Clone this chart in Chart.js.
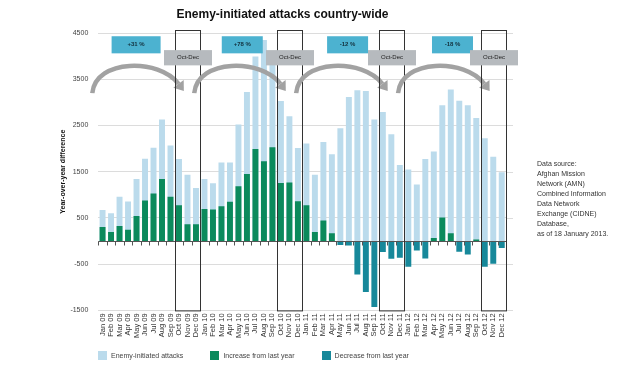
<!DOCTYPE html>
<html>
<head>
<meta charset="utf-8">
<script src="https://cdn.jsdelivr.net/npm/chart.js@4.4.1/dist/chart.umd.min.js"></script>
<style>
    html, body { margin: 0; padding: 0; background: #fff; }
    #wrap { position: relative; width: 633px; height: 385px; }
    #note {
        position: absolute; left: 537px; top: 159px;
        font: 7px/10px "Liberation Sans", Arial, sans-serif; color: #333;
    }
    #legend {
        position: absolute; left: 98px; top: 351px;
        display: flex; font: 7px "Liberation Sans", Arial, sans-serif; color: #444;
    }
    #legend .item { display: flex; align-items: center; margin-right: 27px; }
    #legend .box { width: 9px; height: 9px; margin-right: 4px; }
</style>
</head>
<body>
<div id="wrap">
    <canvas id="myChart"></canvas>
    <div id="legend"></div>
    <div id="note">Data source:<br>Afghan Mission<br>Network (AMN)<br>Combined Information<br>Data Network<br>Exchange (CIDNE)<br>Database,<br>as of 18 January 2013.</div>
</div>
<script>
// Datos
const monthNames = ["Jan", "Feb", "Mar", "Apr", "May", "Jun", "Jul", "Aug", "Sep", "Oct", "Nov", "Dec"];
const years = ["09", "10", "11", "12"];
const yTicks = [-1500, -500, 500, 1500, 2500, 3500, 4500];
const yearChange = ["+31 %", "+78 %", "-12 %", "-18 %"];

// Ataques iniciados por el enemigo (total mensual)
const attacks = [
    670, 600, 960, 855, 1340, 1780, 2020, 2630, 2065, 1775, 1435, 1150,
    1340, 1250, 1700, 1700, 2520, 3225, 3990, 4350, 4090, 3030, 2700, 2010,
    2110, 1435, 2140, 1880, 2440, 3115, 3260, 3245, 2630, 2790, 2310, 1645,
    1545, 1225, 1775, 1935, 2935, 3280, 3035, 2935, 2660, 2225, 1825, 1490
];
// Diferencia interanual
const change = [
    304, 196, 326, 246, 543, 877, 1030, 1340, 957, 775, 362, 362,
    695, 680, 753, 848, 1188, 1450, 1993, 1725, 2030, 1254, 1268, 862,
    775, 196, 442, 167, -87, -94, -725, -1100, -1428, -239, -384, -362,
    -558, -203, -377, 65, 507, 167, -232, -290, 36, -558, -493, -152
];

const labels = [];
years.forEach(yr => monthNames.forEach(m => labels.push(m + " " + yr)));
const increase = change.map(v => (v > 0 ? v : null));
const decrease = change.map(v => (v < 0 ? v : null));

const FONT = "'Liberation Sans', Arial, sans-serif";

// Anotaciones: línea de cero, flechas, recuadros Oct-Dec y etiquetas
const annotations = {
    id: "annotations",
    afterDatasetsDraw(chart) {
        const { ctx, chartArea: area, scales: { x, y } } = chart;
        const step = x.getPixelForValue(1) - x.getPixelForValue(0);
        const edge = i => x.getPixelForValue(i) - step / 2;
        const at = f => x.getPixelForValue(0) + f * step;
        ctx.save();

        // prolongación de la cuadrícula a la derecha
        ctx.strokeStyle = "#dcdcdc";
        ctx.lineWidth = 1;
        ctx.beginPath();
        yTicks.forEach(v => {
            const py = Math.round(y.getPixelForValue(v)) + 0.5;
            ctx.moveTo(area.right, py);
            ctx.lineTo(area.right + 7, py);
        });
        ctx.stroke();

        // línea de cero con marcas
        const y0 = Math.round(y.getPixelForValue(0)) + 0.5;
        ctx.strokeStyle = "#555";
        ctx.beginPath();
        ctx.moveTo(area.left, y0);
        ctx.lineTo(area.right, y0);
        for (let i = 0; i <= labels.length; i++) {
            const px = Math.round(edge(i)) + 0.5;
            ctx.moveTo(px, y0);
            ctx.lineTo(px, y0 + 4);
        }
        ctx.stroke();

        const badgeCenter = [3.95, 16.45, 28.85, 41.2];
        const badgeWidth = [49, 41, 41, 41];

        years.forEach((yr, k) => {
            const s = k * 12;
            // flecha curva
            const x0 = edge(s) - 6;
            const x1 = x.getPixelForValue(s + 10) - 9;
            const span = x1 - x0;
            const yb = y.getPixelForValue(3200);
            const ye = y.getPixelForValue(3400);
            const yc = y.getPixelForValue(3950);
            const c1x = x0 + 0.04 * span, c2x = x1 - 0.22 * span;
            ctx.strokeStyle = "#a2a2a2";
            ctx.fillStyle = "#a2a2a2";
            ctx.lineWidth = 4.5;
            ctx.beginPath();
            ctx.moveTo(x0, yb);
            ctx.bezierCurveTo(c1x, yc, c2x, yc, x1, ye);
            ctx.stroke();
            let dx = x1 - c2x, dy = ye - yc;
            const len = Math.hypot(dx, dy);
            dx /= len; dy /= len;
            ctx.beginPath();
            ctx.moveTo(x1 + dx * 9, ye + dy * 9);
            ctx.lineTo(x1 - dy * 6.5, ye + dx * 6.5);
            ctx.lineTo(x1 + dy * 6.5, ye - dx * 6.5);
            ctx.closePath();
            ctx.fill();

            // recuadro Oct-Dec
            const bx0 = Math.round(edge(s + 9)) + 0.5;
            const bx1 = Math.round(edge(s + 12)) + 0.5;
            ctx.strokeStyle = "#333";
            ctx.lineWidth = 1;
            ctx.strokeRect(bx0, area.top - 2.5, bx1 - bx0, area.bottom - area.top + 3);

            // etiqueta azul con el porcentaje
            const cx = at(badgeCenter[k]);
            const w = badgeWidth[k];
            const t = y.getPixelForValue(4430), b = y.getPixelForValue(4060);
            ctx.fillStyle = "#4cb2d0";
            ctx.fillRect(cx - w / 2, t, w, b - t);
            ctx.fillStyle = "#13303c";
            ctx.font = "bold 6px " + FONT;
            ctx.textAlign = "center";
            ctx.textBaseline = "middle";
            ctx.fillText(yearChange[k], cx, (t + b) / 2);

            // etiqueta gris Oct-Dec
            const gx = (bx0 + bx1) / 2;
            const gt = y.getPixelForValue(4130), gb = y.getPixelForValue(3800);
            ctx.fillStyle = "#b6babe";
            ctx.fillRect(gx - 24, gt, 48, gb - gt);
            ctx.fillStyle = "#222";
            ctx.font = "6px " + FONT;
            ctx.fillText("Oct-Dec", gx, (gt + gb) / 2);
        });
        ctx.restore();
    }
};

const ctx = document.getElementById("myChart").getContext("2d");
const myChart = new Chart(ctx, {
    type: "bar",
    data: {
        labels: labels,
        datasets: [
            {
                label: "Enemy-initiated attacks",
                data: attacks,
                backgroundColor: "#bbdbec",
                order: 3,
            },
            {
                label: "Increase from last year",
                data: increase,
                backgroundColor: "#0b8a5c",
                order: 1,
            },
            {
                label: "Decrease from last year",
                data: decrease,
                backgroundColor: "#17889a",
                order: 2,
            }
        ],
    },
    options: {
        responsive: true,
        maintainAspectRatio: false,
        animation: false,
        datasets: {
            bar: { grouped: false, barPercentage: 0.7, categoryPercentage: 1 }
        },
        layout: { padding: { left: 59, right: 127, top: 0, bottom: 44 } },
        plugins: {
            legend: { display: false },
            tooltip: { enabled: false },
            title: {
                display: true,
                text: "Enemy-initiated attacks country-wide",
                color: "#111",
                font: { family: FONT, size: 12, weight: "bold" },
                padding: { top: 7, bottom: 11.6 },
            },
        },
        scales: {
            x: {
                grid: { display: false, drawTicks: false },
                border: { display: false },
                ticks: {
                    autoSkip: false, maxRotation: 90, minRotation: 90,
                    color: "#333", padding: 3,
                    font: { family: FONT, size: 7.5 },
                },
            },
            y: {
                min: -1500,
                max: 4500,
                afterBuildTicks: scale => { scale.ticks = yTicks.map(v => ({ value: v })); },
                grid: { color: "#dcdcdc", drawTicks: false },
                border: { display: false },
                ticks: {
                    color: "#444", padding: 10,
                    font: { family: FONT, size: 7 },
                    callback: v => String(v),
                },
                title: {
                    display: true,
                    text: "Year-over-year difference",
                    color: "#111",
                    font: { family: FONT, size: 7, weight: "bold" },
                    padding: { top: 0, bottom: -7 },
                },
            },
        },
    },
    plugins: [annotations],
});

// Leyenda en HTML construida desde los datasets
const legendEl = document.getElementById("legend");
myChart.data.datasets.forEach(ds => {
    const item = document.createElement("div");
    item.className = "item";
    item.innerHTML = '<span class="box" style="background:' + ds.backgroundColor + '"></span>' + ds.label;
    legendEl.appendChild(item);
});
</script>
</body>
</html>
